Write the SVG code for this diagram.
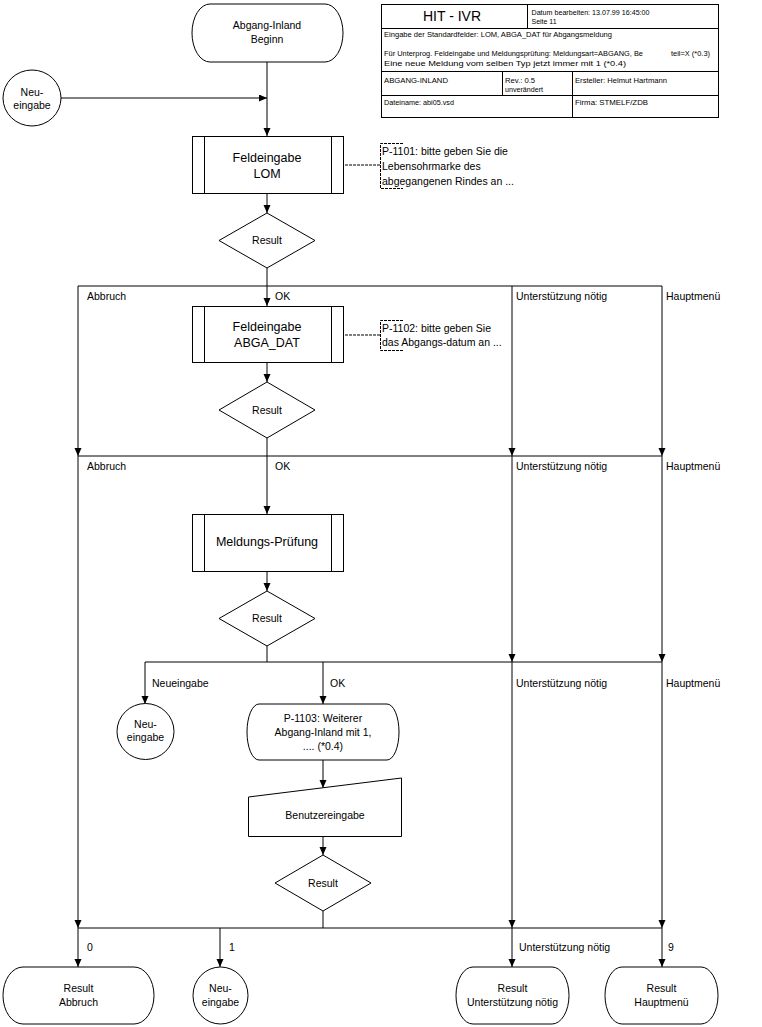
<svg xmlns="http://www.w3.org/2000/svg" width="762" height="1027" viewBox="0 0 762 1027">
<style>
.ln{stroke:#000;stroke-width:1;fill:none}
.ar{marker-end:url(#ah)}
.dash{stroke:#000;stroke-width:1;fill:none;stroke-dasharray:3,1}
.sh{fill:#fff;stroke:#000;stroke-width:1}
.t{font-family:"Liberation Sans",Arial,sans-serif;font-size:10.5px;fill:#000}
.m{text-anchor:middle}
.b{font-size:12.5px}
.s{font-size:8px}
.h{font-size:14px}
</style>
<defs>
<marker id="ah" markerUnits="userSpaceOnUse" markerWidth="8" markerHeight="8" refX="8" refY="3.5" orient="auto">
<path d="M0,0 L8,3.5 L0,7 Z" fill="#000"/>
</marker>
</defs>
<rect width="762" height="1027" fill="#fff"/>

<g id="connectors">
<path class="ln ar" d="M267,62 V136"/>
<path class="ln ar" d="M61,98 H267"/>
<path class="ln ar" d="M267,193 V213"/>
<path class="ln ar" d="M267,268 V306"/>
<path class="ln" d="M78,286 H662"/>
<path class="ln ar" d="M78,286 V456"/>
<path class="ln ar" d="M78,456 V928"/>
<path class="ln ar" d="M78,928 V967"/>
<path class="ln ar" d="M512,286 V456"/>
<path class="ln ar" d="M512,456 V662"/>
<path class="ln ar" d="M512,662 V928"/>
<path class="ln ar" d="M512,928 V967"/>
<path class="ln ar" d="M662,286 V456"/>
<path class="ln ar" d="M662,456 V662"/>
<path class="ln ar" d="M662,662 V928"/>
<path class="ln ar" d="M662,928 V967"/>
<path class="ln ar" d="M267,362 V382"/>
<path class="ln" d="M78,456 H662"/>
<path class="ln ar" d="M267,438 V514"/>
<path class="ln ar" d="M267,572 V591"/>
<path class="ln" d="M267,646 V662"/>
<path class="ln" d="M145,662 H662"/>
<path class="ln ar" d="M145,662 V704"/>
<path class="ln ar" d="M323,662 V704"/>
<path class="ln ar" d="M323,760 V788"/>
<path class="ln ar" d="M323,836 V855"/>
<path class="ln" d="M323,911 V928"/>
<path class="ln" d="M78,928 H662"/>
<path class="ln ar" d="M220,928 V967"/>
<path class="dash" d="M345,165 H380"/>
<path class="dash" d="M345,335 H380"/>
<text class="t" x="87" y="300">Abbruch</text>
<text class="t" x="275" y="300">OK</text>
<text class="t" x="516" y="300">Unterstützung nötig</text>
<text class="t" x="666" y="300">Hauptmenü</text>
<text class="t" x="87" y="470">Abbruch</text>
<text class="t" x="275" y="470">OK</text>
<text class="t" x="516" y="470">Unterstützung nötig</text>
<text class="t" x="666" y="470">Hauptmenü</text>
<text class="t" x="152" y="687">Neueingabe</text>
<text class="t" x="330" y="687">OK</text>
<text class="t" x="516" y="687">Unterstützung nötig</text>
<text class="t" x="666" y="687">Hauptmenü</text>
<text class="t" x="87" y="951">0</text>
<text class="t" x="229" y="951">1</text>
<text class="t" x="519" y="951">Unterstützung nötig</text>
<text class="t" x="668" y="951">9</text>
</g>

<g id="titleblock">
<rect class="sh" x="381.5" y="4.5" width="337" height="113"/>
<path class="ln" d="M381.5,28.5 H718.5 M381.5,71.5 H718.5 M381.5,95.5 H718.5 M527.5,4.5 V28.5 M502.5,71.5 V95.5 M572.5,71.5 V117.5"/>
<text class="t h m" x="452" y="21">HIT - IVR</text>
<text class="t s" x="531.5" y="14.5" textLength="118" lengthAdjust="spacingAndGlyphs">Datum bearbeiten: 13.07.99 16:45:00</text>
<text class="t s" x="531.5" y="23.5" textLength="25" lengthAdjust="spacingAndGlyphs">Seite 11</text>
<text class="t s" x="384" y="37" textLength="228" lengthAdjust="spacingAndGlyphs">Eingabe der Standardfelder: LOM, ABGA_DAT für Abgangsmeldung</text>
<text class="t s" y="56"><tspan x="384" textLength="259" lengthAdjust="spacingAndGlyphs">Für Unterprog. Feldeingabe und Meldungsprüfung: Meldungsart=ABGANG, Be</tspan><tspan x="671" textLength="39" lengthAdjust="spacingAndGlyphs">teil=X (*0.3)</tspan></text>
<text class="t s" x="384" y="65.5" textLength="242" lengthAdjust="spacingAndGlyphs">Eine neue Meldung vom selben Typ jetzt immer mit 1  (*0.4)</text>
<text class="t s" x="384" y="83" textLength="64" lengthAdjust="spacingAndGlyphs">ABGANG-INLAND</text>
<text class="t s" x="505" y="83" textLength="30" lengthAdjust="spacingAndGlyphs">Rev.: 0.5</text>
<text class="t s" x="505" y="92" textLength="38" lengthAdjust="spacingAndGlyphs">unverändert</text>
<text class="t s" x="575" y="83" textLength="92" lengthAdjust="spacingAndGlyphs">Ersteller: Helmut Hartmann</text>
<text class="t s" x="384" y="104.5" textLength="70" lengthAdjust="spacingAndGlyphs">Dateiname: abi05.vsd</text>
<text class="t s" x="575" y="104.5" textLength="73" lengthAdjust="spacingAndGlyphs">Firma: STMELF/ZDB</text>
</g>

<g id="start">
<path class="sh" d="M210,4 H325 A18,29 0 0 1 325,62 H210 A18,29 0 0 1 210,4 Z"/>
<text class="t m" x="267" y="29">Abgang-Inland</text>
<text class="t m" x="267" y="42.5">Beginn</text>
</g>

<g id="neueingabe-top">
<ellipse class="sh" cx="32" cy="98" rx="29" ry="28"/>
<text class="t m" x="32" y="95.5">Neu-</text>
<text class="t m" x="32" y="108.5">eingabe</text>
</g>

<g id="feldeingabe-lom">
<rect class="sh" x="192.5" y="136.5" width="151" height="57"/>
<path class="ln" d="M204.5,136.5 V193.5 M331.5,136.5 V193.5"/>
<text class="t b m" x="267" y="161.5">Feldeingabe</text>
<text class="t b m" x="267" y="177.5">LOM</text>
</g>

<g id="note-1101">
<path class="dash" d="M403,143.5 H380.5 V188.5 H403"/>
<text class="t" x="382" y="155">P-1101: bitte geben Sie die</text>
<text class="t" x="382" y="170">Lebensohrmarke des</text>
<text class="t" x="382" y="185">abgegangenen Rindes an ...</text>
</g>

<g id="result-1">
<polygon class="sh" points="267,213 315,240.5 267,268 219,240.5"/>
<text class="t m" x="267" y="244">Result</text>
</g>

<g id="feldeingabe-abga-dat">
<rect class="sh" x="192.5" y="306.5" width="151" height="56"/>
<path class="ln" d="M204.5,306.5 V362.5 M331.5,306.5 V362.5"/>
<text class="t b m" x="267" y="331">Feldeingabe</text>
<text class="t b m" x="267" y="347">ABGA_DAT</text>
</g>

<g id="note-1102">
<path class="dash" d="M403,320.5 H380.5 V350.5 H403"/>
<text class="t" x="382" y="332">P-1102: bitte geben Sie</text>
<text class="t" x="382" y="346">das Abgangs-datum an ...</text>
</g>

<g id="result-2">
<polygon class="sh" points="267,382 315,410 267,438 219,410"/>
<text class="t m" x="267" y="413.5">Result</text>
</g>

<g id="meldungs-pruefung">
<rect class="sh" x="192.5" y="514.5" width="151" height="57"/>
<path class="ln" d="M204.5,514.5 V571.5 M331.5,514.5 V571.5"/>
<text class="t b m" x="267" y="546">Meldungs-Prüfung</text>
</g>

<g id="result-3">
<polygon class="sh" points="267,591 315,618.5 267,646 219,618.5"/>
<text class="t m" x="267" y="621.5">Result</text>
</g>

<g id="neueingabe-mid">
<ellipse class="sh" cx="145.5" cy="731.5" rx="28.5" ry="28"/>
<text class="t m" x="145.5" y="728">Neu-</text>
<text class="t m" x="145.5" y="741">eingabe</text>
</g>

<g id="p1103">
<path class="sh" d="M259,704 H387 A12,28 0 0 1 387,760 H259 A12,28 0 0 1 259,704 Z"/>
<text class="t m" x="323" y="722">P-1103: Weiterer</text>
<text class="t m" x="323" y="736">Abgang-Inland mit 1,</text>
<text class="t m" x="323" y="750">.... (*0.4)</text>
</g>

<g id="benutzereingabe">
<polygon class="sh" points="248.5,797 401.5,778 401.5,836.5 248.5,836.5"/>
<text class="t m" x="325" y="819">Benutzereingabe</text>
</g>

<g id="result-4">
<polygon class="sh" points="323,855 371,883 323,911 275,883"/>
<text class="t m" x="323" y="886.5">Result</text>
</g>

<g id="result-abbruch">
<path class="sh" d="M23,967 H134 A20,28.5 0 0 1 134,1024 H23 A20,28.5 0 0 1 23,967 Z"/>
<text class="t m" x="78.5" y="992">Result</text>
<text class="t m" x="78.5" y="1005.5">Abbruch</text>
</g>

<g id="neueingabe-bottom">
<ellipse class="sh" cx="220.5" cy="995.5" rx="27.5" ry="28.5"/>
<text class="t m" x="220.5" y="992">Neu-</text>
<text class="t m" x="220.5" y="1005.5">eingabe</text>
</g>

<g id="result-unterstuetzung">
<path class="sh" d="M473,967 H552 A17,28.5 0 0 1 552,1024 H473 A17,28.5 0 0 1 473,967 Z"/>
<text class="t m" x="512.5" y="992">Result</text>
<text class="t m" x="512.5" y="1005.5">Unterstützung nötig</text>
</g>

<g id="result-hauptmenue">
<path class="sh" d="M622,967 H701 A17,28.5 0 0 1 701,1024 H622 A17,28.5 0 0 1 622,967 Z"/>
<text class="t m" x="661.5" y="992">Result</text>
<text class="t m" x="661.5" y="1005.5">Hauptmenü</text>
</g>
</svg>
